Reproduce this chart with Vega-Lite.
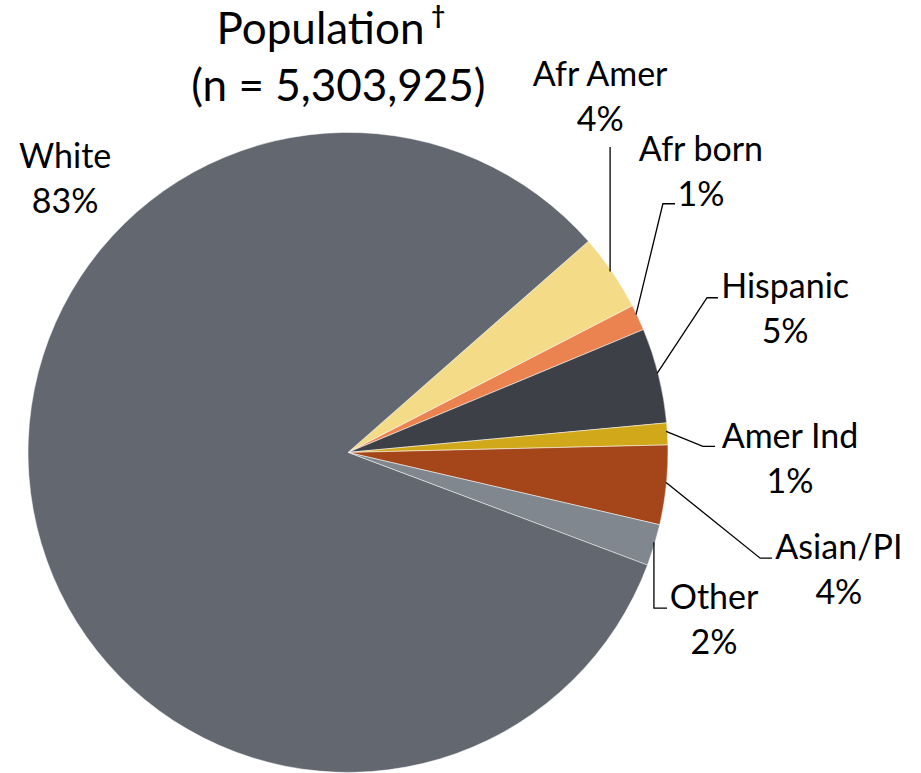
{
  "$schema": "https://vega.github.io/schema/vega-lite/v6.json",
  "width": 921,
  "height": 773,
  "autosize": {"type": "fit", "contains": "padding"},
  "padding": 0,
  "background": "white",
  "config": {"view": {"stroke": null}, "font": "Lato"},
  "datasets": {
    "slices": [
      {"group": "Afr Amer", "pct": 3.9, "ord": 1},
      {"group": "Afr born", "pct": 1.3, "ord": 2},
      {"group": "Hispanic", "pct": 4.8, "ord": 3},
      {"group": "Amer Ind", "pct": 1.1, "ord": 4},
      {"group": "Asian/PI", "pct": 4.0, "ord": 5},
      {"group": "Other", "pct": 2.1, "ord": 6},
      {"group": "White", "pct": 82.8, "ord": 7}
    ],
    "labels": [
      {"group": "White", "text": "White\n83%", "lx": -88.4, "ly": 92.0},
      {"group": "Afr Amer", "text": "Afr Amer\n4%", "lx": 78.8, "ly": 117.7},
      {"group": "Afr born", "text": "Afr born\n1%", "lx": 110.3, "ly": 94.2},
      {"group": "Hispanic", "text": "Hispanic\n5%", "lx": 136.6, "ly": 51.4},
      {"group": "Amer Ind", "text": "Amer Ind\n1%", "lx": 138.1, "ly": 4.5},
      {"group": "Asian/PI", "text": "Asian/PI\n4%", "lx": 153.4, "ly": -30.2},
      {"group": "Other", "text": "Other\n2%", "lx": 114.4, "ly": -45.8}
    ],
    "leaders": [
      {"group": "Afr Amer", "i": 1, "lx": 81.9, "ly": 95.6},
      {"group": "Afr Amer", "i": 2, "lx": 81.9, "ly": 56.6},
      {"group": "Afr born", "i": 1, "lx": 102.2, "ly": 77.8},
      {"group": "Afr born", "i": 2, "lx": 98.4, "ly": 77.8},
      {"group": "Afr born", "i": 3, "lx": 90.0, "ly": 43.1},
      {"group": "Hispanic", "i": 1, "lx": 115.6, "ly": 48.4},
      {"group": "Hispanic", "i": 2, "lx": 112.2, "ly": 48.4},
      {"group": "Hispanic", "i": 3, "lx": 96.6, "ly": 24.7},
      {"group": "Amer Ind", "i": 1, "lx": 99.4, "ly": 6.6},
      {"group": "Amer Ind", "i": 2, "lx": 110.9, "ly": 1.9},
      {"group": "Amer Ind", "i": 3, "lx": 114.7, "ly": 1.9},
      {"group": "Asian/PI", "i": 1, "lx": 99.4, "ly": -9.4},
      {"group": "Asian/PI", "i": 2, "lx": 128.8, "ly": -33.1},
      {"group": "Asian/PI", "i": 3, "lx": 132.5, "ly": -33.1},
      {"group": "Other", "i": 1, "lx": 95.6, "ly": -28.1},
      {"group": "Other", "i": 2, "lx": 95.6, "ly": -48.75},
      {"group": "Other", "i": 3, "lx": 99.7, "ly": -48.75}
    ],
    "title": [
      {"text": "Population", "lx": -8.6, "ly": 131.9},
      {"text": "(n = 5,303,925)", "lx": -3.0, "ly": 114.1}
    ],
    "dagger": [
      {"text": "†", "lx": 26.0, "ly": 136.3}
    ]
  },
  "layer": [
    {
      "data": {"name": "slices"},
      "mark": {"type": "arc", "outerRadius": 320, "stroke": "white", "strokeWidth": 0.5},
      "encoding": {
        "x": {"datum": 0, "type": "quantitative", "scale": {"domain": [-108.75, 179.06], "nice": false, "zero": false}, "axis": null},
        "y": {"datum": 0, "type": "quantitative", "scale": {"domain": [-100, 141.56], "nice": false, "zero": false}, "axis": null},
        "theta": {"field": "pct", "type": "quantitative", "stack": true, "scale": {"range": [0.85, 7.1332]}},
        "order": {"field": "ord", "type": "quantitative"},
        "color": {
          "field": "group", "type": "nominal", "legend": null,
          "scale": {
            "domain": ["Afr Amer", "Afr born", "Hispanic", "Amer Ind", "Asian/PI", "Other", "White"],
            "range": ["#F3DB88", "#EA834F", "#3D4046", "#D1A819", "#A5461A", "#80878F", "#636870"]
          }
        }
      }
    },
    {
      "data": {"name": "leaders"},
      "mark": {"type": "line", "color": "black", "strokeWidth": 1.3, "interpolate": "linear"},
      "encoding": {
        "x": {"field": "lx", "type": "quantitative", "axis": null},
        "y": {"field": "ly", "type": "quantitative", "axis": null},
        "detail": {"field": "group"},
        "order": {"field": "i", "type": "quantitative"}
      }
    },
    {
      "data": {"name": "labels"},
      "mark": {"type": "text", "font": "Lato", "fontSize": 34, "lineBreak": "\n", "lineHeight": 45, "align": "center", "baseline": "middle", "color": "black"},
      "encoding": {
        "x": {"field": "lx", "type": "quantitative", "axis": null},
        "y": {"field": "ly", "type": "quantitative", "axis": null},
        "text": {"field": "text"}
      }
    },
    {
      "data": {"name": "title"},
      "mark": {"type": "text", "font": "Lato", "fontSize": 44, "align": "center", "baseline": "middle", "color": "black"},
      "encoding": {
        "x": {"field": "lx", "type": "quantitative", "axis": null},
        "y": {"field": "ly", "type": "quantitative", "axis": null},
        "text": {"field": "text"}
      }
    },
    {
      "data": {"name": "dagger"},
      "mark": {"type": "text", "font": "Lato", "fontSize": 24, "fontWeight": "bold", "align": "left", "baseline": "middle", "color": "black"},
      "encoding": {
        "x": {"field": "lx", "type": "quantitative", "axis": null},
        "y": {"field": "ly", "type": "quantitative", "axis": null},
        "text": {"field": "text"}
      }
    }
  ]
}
